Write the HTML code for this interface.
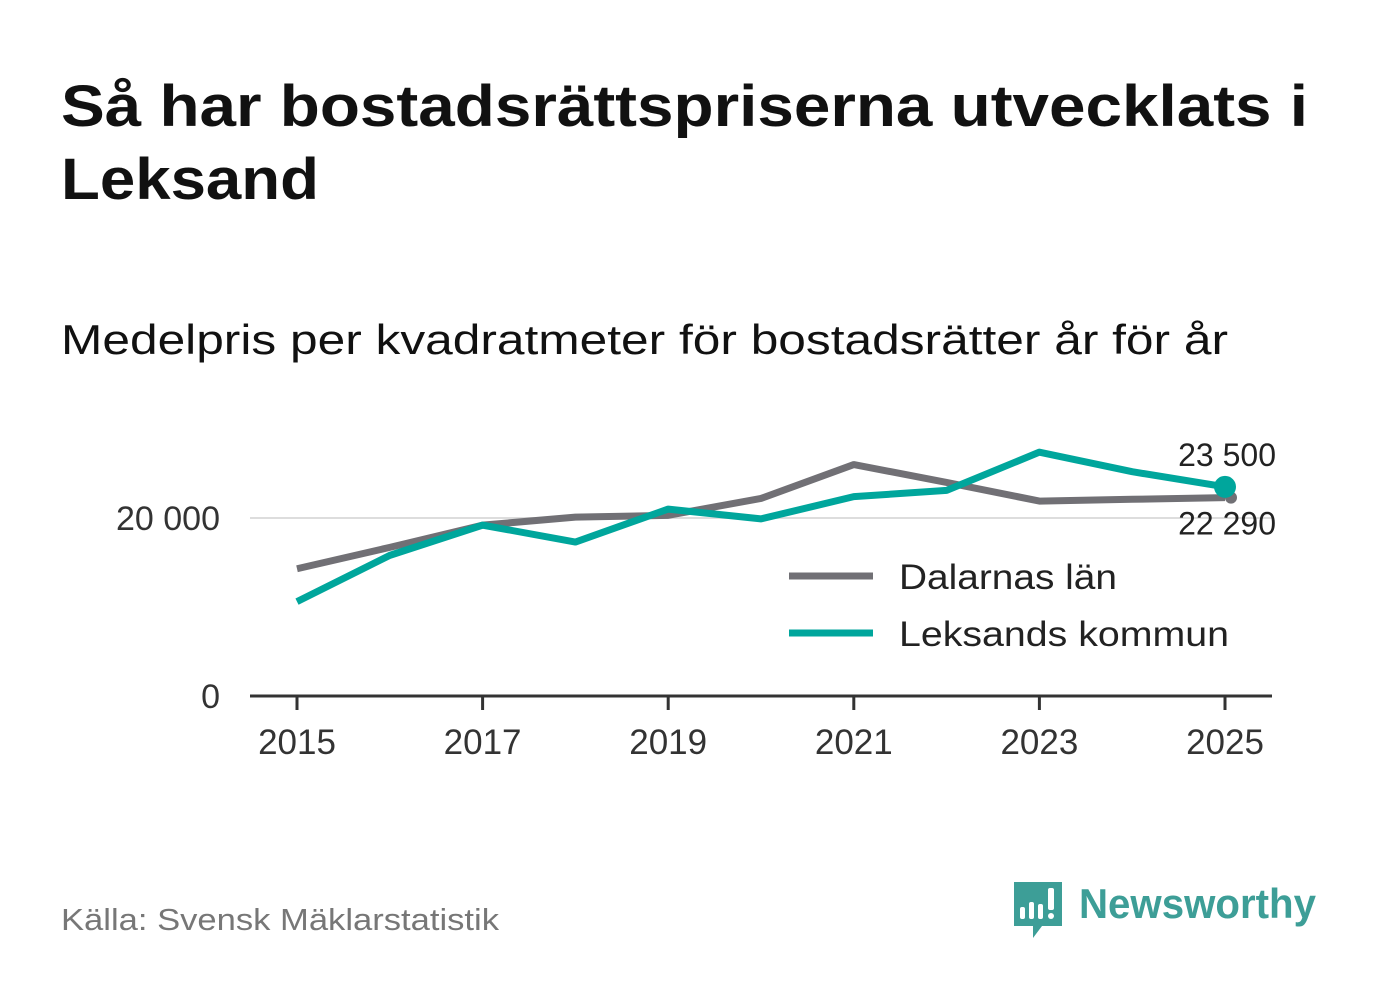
<!DOCTYPE html>
<html><head><meta charset="utf-8"><style>
body{margin:0;width:1382px;height:999px;background:#fff;font-family:"Liberation Sans",sans-serif;overflow:hidden}
</style></head><body>
<svg width="1382" height="999" xmlns="http://www.w3.org/2000/svg">
<text x="61" y="126" font-size="58" font-weight="bold" fill="#111" textLength="1247" lengthAdjust="spacingAndGlyphs">Så har bostadsrättspriserna utvecklats i</text>
<text x="61" y="199" font-size="58" font-weight="bold" fill="#111" textLength="258" lengthAdjust="spacingAndGlyphs">Leksand</text>
<text x="61" y="354" font-size="42" fill="#111" textLength="1167" lengthAdjust="spacingAndGlyphs">Medelpris per kvadratmeter för bostadsrätter år för år</text>
<g id="plot"></g>
<g>
<line x1="789" y1="576" x2="873" y2="576" stroke="#717075" stroke-width="7"/>
<text x="899" y="589" font-size="35" fill="#222" textLength="218" lengthAdjust="spacingAndGlyphs">Dalarnas län</text>
<line x1="789" y1="633" x2="873" y2="633" stroke="#00a69c" stroke-width="7"/>
<text x="899" y="646" font-size="35" fill="#222" textLength="330" lengthAdjust="spacingAndGlyphs">Leksands kommun</text>
</g>
<text x="61" y="930" font-size="31" fill="#777" textLength="438" lengthAdjust="spacingAndGlyphs">Källa: Svensk Mäklarstatistik</text>
<g>
<path d="M1014 882 h48 v44 h-20 l-9 12 v-12 h-19 z" fill="#3d9e97"/>
<rect x="1020" y="907" width="5" height="12" rx="2" fill="#fff"/>
<rect x="1029" y="902" width="5" height="17" rx="2" fill="#fff"/>
<rect x="1038" y="904" width="5" height="15" rx="2" fill="#fff"/>
<rect x="1048" y="888" width="6" height="22" rx="2" fill="#fff"/>
<circle cx="1051" cy="916" r="3" fill="#fff"/>
<text x="1079" y="918" font-size="42" font-weight="bold" fill="#3d9e97" textLength="237" lengthAdjust="spacingAndGlyphs">Newsworthy</text>
</g>
</svg>
<script>
const years=[2015,2016,2017,2018,2019,2020,2021,2022,2023,2024,2025];
const dalarna=[14300,16700,19200,20100,20300,22200,26000,24000,21900,22100,22290];
const leksand=[10600,15800,19200,17300,21000,19900,22400,23100,27400,25200,23500];
const yTicks=[0,20000];
const yTickLabels=["0","20 000"];
const xTicks=[2015,2017,2019,2021,2023,2025];
const NS="http://www.w3.org/2000/svg";
const g=document.getElementById('plot');
const xs=y=>297+(y-2015)*92.8;
const ys=v=>696-v*0.0089;
function mk(t,a){const e=document.createElementNS(NS,t);for(const k in a)e.setAttribute(k,a[k]);g.appendChild(e);return e;}
yTicks.forEach((v,i)=>{
 if(v>0){const l=mk('line',{x1:250,x2:1272,y1:ys(v),y2:ys(v),stroke:'#ddd','stroke-width':2});
 
 }
 const t=mk('text',{x:220,y:ys(v)+12,'font-size':34,fill:'#333','text-anchor':'end'});t.textContent=yTickLabels[i];
 
 
});
const ax=mk('line',{x1:250,x2:1272,y1:696,y2:696,stroke:'#333','stroke-width':3});


xTicks.forEach(y=>{
 const tk=mk('line',{x1:xs(y),x2:xs(y),y1:696,y2:710,stroke:'#333','stroke-width':3});
 
 
 const t=mk('text',{x:xs(y),y:754,'font-size':35,fill:'#333','text-anchor':'middle'});t.textContent=y;
 
 
});
function line(data,color,name){
 const p=mk('polyline',{points:data.map((v,i)=>xs(years[i])+','+ys(v)).join(' '),fill:'none',stroke:color,'stroke-width':7,'stroke-linejoin':'round'});
 
 
}
line(dalarna,'#717075','dalarna-line');
const gd=mk('circle',{cx:xs(2025)+6,cy:ys(dalarna[10]),r:6,fill:'#717075'});


line(leksand,'#00a69c','leksand-line');
const d=mk('circle',{cx:xs(2025),cy:ys(leksand[10]),r:11,fill:'#00a69c'});


const fmt=v=>String(v).replace(/\B(?=(\d{3})+(?!\d))/g,' ');
const l1=mk('text',{x:1276,y:ys(leksand[10])-21,'font-size':32,fill:'#222','text-anchor':'end'});l1.textContent=fmt(leksand[10]);


const l2=mk('text',{x:1276,y:ys(dalarna[10])+37,'font-size':32,fill:'#222','text-anchor':'end'});l2.textContent=fmt(dalarna[10]);


</script>
</body></html>
